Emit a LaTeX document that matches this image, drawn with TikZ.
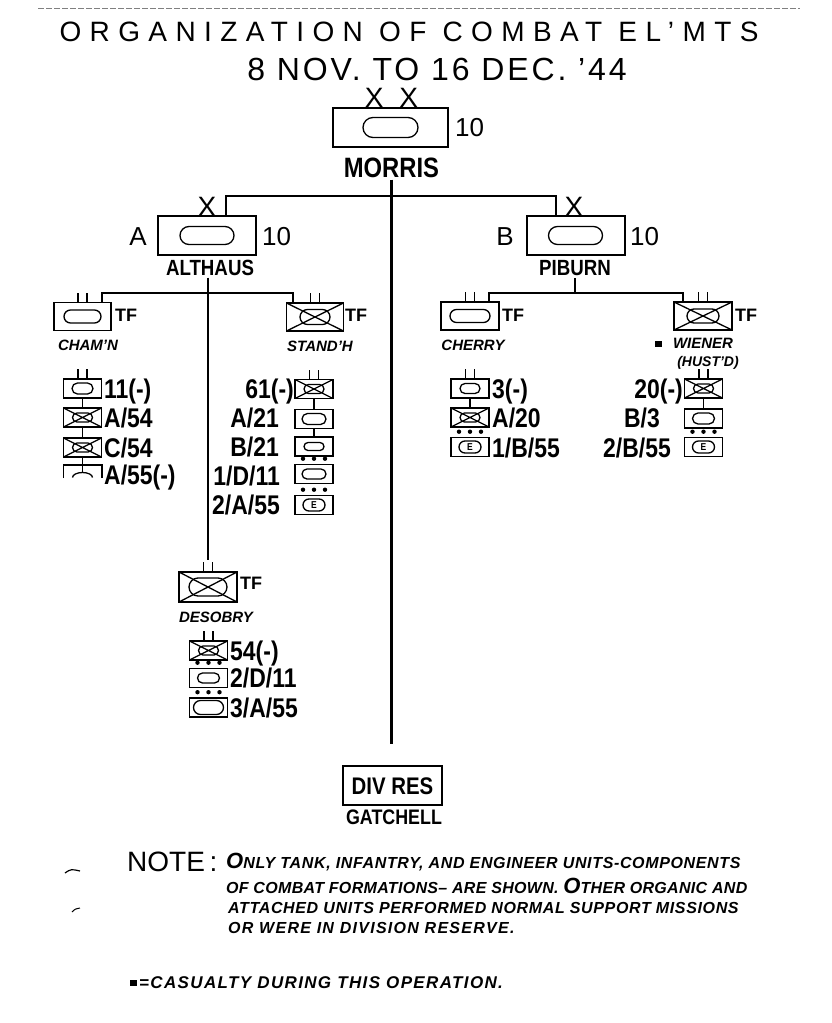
\documentclass[tikz,border=0pt]{standalone}
\usepackage{fontspec}
\setmainfont{Liberation Sans}
\setsansfont{Liberation Sans}
\newfontfamily\titlefont[LetterSpace=30]{Liberation Sans}
\newfontfamily\datefont[LetterSpace=9]{Liberation Sans}
\newfontfamily\hand[FakeStretch=0.85]{Liberation Sans}
\newfontfamily\notefont[LetterSpace=4]{Liberation Sans}
\usetikzlibrary{positioning}
\tikzset{symline/.style = {line width = 1.3pt}}
\tikzset{mainline/.style = {line width = 2.4pt}}
\tikzset{thinline/.style = {line width = 1.1pt}}
\tikzset{unit/.style = {draw, line width = 2pt, inner sep = 0}}
\tikzset{bigbox/.style = {unit, minimum width = 115, minimum height = 39}}
\tikzset{ccbox/.style = {unit, minimum width = 98, minimum height = 39}}
\tikzset{tfbox/.style = {unit, line width = 1.8pt, minimum width = 57, minimum height = 28}}
\tikzset{cobox/.style = {unit, line width = 1.6pt, minimum width = 38, minimum height = 19}}
\tikzset{divbox/.style = {unit, minimum width = 99, minimum height = 39, font = \hand\bfseries\fontsize{24}{24}\selectfont, text height = 17pt, text depth = 0pt}}
\tikzset{casualty/.style = {fill, minimum width = 7, minimum height = 6, inner sep = 0}}
\tikzset{armor/.style n args = {2}{path picture = {\draw [symline, rounded corners = #2] ([shift = {(-#1, -#2)}] path picture bounding box.center) rectangle ([shift = {(#1, #2)}] path picture bounding box.center);}}}
\tikzset{mech/.style n args = {2}{path picture = {\draw [symline] (path picture bounding box.north west) -- (path picture bounding box.south east) (path picture bounding box.north east) -- (path picture bounding box.south west); \draw [symline, rounded corners = #2] ([shift = {(-#1, -#2)}] path picture bounding box.center) rectangle ([shift = {(#1, #2)}] path picture bounding box.center);}}}
\tikzset{engr/.style n args = {2}{path picture = {\draw [symline, rounded corners = #2] ([shift = {(-#1, -#2)}] path picture bounding box.center) rectangle ([shift = {(#1, #2)}] path picture bounding box.center); \node [font = \hand\bfseries\fontsize{10}{10}\selectfont, inner sep = 0] at (path picture bounding box.center) {E};}}}
\tikzset{titletext/.style = {font = \titlefont\fontsize{28}{28}\selectfont, inner sep = 0, text height = 20pt, text depth = 0pt}}
\tikzset{datetext/.style = {font = \datefont\fontsize{32}{32}\selectfont, inner sep = 0, text height = 23pt, text depth = 0pt}}
\tikzset{echelon/.style = {font = \sffamily\fontsize{28}{28}\selectfont, inner sep = 0, text height = 20pt, text depth = 0pt}}
\tikzset{numtext/.style = {font = \sffamily\fontsize{26}{26}\selectfont, inner sep = 0, text height = 18.6pt, text depth = 0pt}}
\tikzset{cmdname/.style = {font = \hand\bfseries\fontsize{28}{28}\selectfont, inner sep = 0, text height = 20pt, text depth = 0pt}}
\tikzset{ccname/.style = {font = \hand\bfseries\fontsize{22}{22}\selectfont, inner sep = 0, text height = 15.8pt, text depth = 0pt}}
\tikzset{lbl/.style = {font = \hand\bfseries\fontsize{27}{27}\selectfont, inner sep = 0, text height = 19.3pt, text depth = 0pt}}
\tikzset{tftag/.style = {font = \sffamily\bfseries\fontsize{18}{18}\selectfont, inner sep = 0, text height = 12.9pt, text depth = 0pt, anchor = west}}
\tikzset{tfname/.style = {font = \sffamily\bfseries\itshape\fontsize{15}{15}\selectfont, inner sep = 0, text height = 10.7pt, text depth = 0pt}}
\tikzset{notehead/.style = {font = \sffamily\fontsize{28}{28}\selectfont, inner sep = 0, text height = 20pt, text depth = 0pt, anchor = west}}
\tikzset{notetext/.style = {font = \notefont\bfseries\itshape\fontsize{16}{16}\selectfont, inner sep = 0, text height = 11.5pt, text depth = 0pt, anchor = west}}
\newcommand{\bnmark}[1]{\draw [symline] ([xshift = -4.5pt] #1.north) -- ++(0, -9) ([xshift = 4.5pt] #1.north) -- ++(0, -9);}
\newcommand{\pltdots}[1]{\foreach \dx in {-11, 0, 11} {\fill ([xshift = \dx pt] #1.north) ++(0, -5) circle (2.2pt);}}
\newcommand{\bigO}{{\fontsize{22}{22}\selectfont O}}

\begin{document}
\begin{tikzpicture}[x = 1pt, y = -1pt]
    \useasboundingbox (0, 0) rectangle (831, 1023);
    \draw [dash pattern = on 6pt off 2pt, line width = 0.8pt, gray] (38, 8) -- (800, 8);

    \node [titletext] (title) at (409, 31) {ORGANIZATION OF COMBAT EL’MTS};
    \node [datetext] (dates) at (437, 68.5) {8 NOV. TO 16 DEC. ’44};

    \node [bigbox, armor = {27.5}{10}] (morris) at (390.5, 127.5) {};
    \node [echelon] (xxM) at (391.5, 97.5) {X\hspace{16pt}X};
    \node [numtext, anchor = west] (tenM) at (455, 127.5) {10};
    \node [cmdname] (morrislbl) at (391.5, 167.5) {MORRIS};

    \node [ccbox, armor = {27}{9}] (ccA) at (207, 235.5) {};
    \node [echelon] (xA) at (207, 206.5) {X};
    \node [numtext] (letA) at (138, 236) {A};
    \node [numtext, anchor = west] (tenA) at (262, 236) {10};
    \node [ccname] (althaus) at (210, 267.5) {ALTHAUS};
    \node [ccbox, armor = {27}{9}] (ccB) at (575.5, 235.5) {};
    \node [echelon] (xB) at (574, 206.5) {X};
    \node [numtext] (letB) at (505, 236) {B};
    \node [numtext, anchor = west] (tenB) at (630, 236) {10};
    \node [ccname] (piburn) at (575, 268) {PIBURN};

    \node [tfbox, armor = {18.5}{6.5}] (chamn) at (82.5, 316.5) {};
    \node [tftag] (tfC) at (115, 315) {TF};
    \node [tfname] (chamnlbl) at (88, 345) {CHAM’N};
    \node [tfbox, mech = {15}{7.5}] (standh) at (315, 317) {};
    \node [tftag] (tfS) at (345, 315) {TF};
    \node [tfname] (standhlbl) at (320, 346) {STAND’H};
    \node [tfbox, minimum width = 58, armor = {20}{6.5}] (cherry) at (470, 316) {};
    \node [tftag] (tfH) at (502, 315) {TF};
    \node [tfname] (cherrylbl) at (473, 345) {CHERRY};
    \node [tfbox, minimum width = 58, mech = {16}{7}] (wiener) at (703, 316) {};
    \node [tftag] (tfW) at (735, 315) {TF};
    \node [casualty] (casW) at (658.5, 344) {};
    \node [tfname] (wienerlbl) at (703, 343) {WIENER};
    \node [tfname, font = \sffamily\bfseries\itshape\fontsize{14}{14}\selectfont] (hustd) at (708, 361) {(HUST’D)};
    \bnmark{chamn}
    \bnmark{standh}
    \bnmark{cherry}
    \bnmark{wiener}

    \node [cobox, armor = {10.5}{5.5}] (c1) at (82.5, 388.5) {};
    \node [cobox, mech = {10}{4.5}] (c2) at (82.5, 417.5) {};
    \node [cobox, mech = {10}{4.5}] (c3) at (82.5, 447.5) {};
    \node [minimum width = 38, minimum height = 13, inner sep = 0] (c4) at (82.5, 471.5) {};
    \draw [symline, line width = 1.6pt] (c4.south west) |- (c4.north east) -- (c4.south east);
    \draw [symline] ([shift = {(-10, 6)}] c4.center) arc [start angle = 180, end angle = 360, x radius = 10, y radius = 5];
    \draw [symline] (c1) -- (c2) (c2) -- (c3) (c3) -- (c4.center);
    \bnmark{c1}
    \node [lbl, anchor = west] (c1lbl) at (104, 388.5) {11(-)};
    \node [lbl, anchor = west] (c2lbl) at (104, 417.5) {A/54};
    \node [lbl, anchor = west] (c3lbl) at (104, 447.5) {C/54};
    \node [lbl, anchor = west] (c4lbl) at (104, 475) {A/55(-)};

    \node [cobox, mech = {10}{4.5}] (s1) at (314, 389) {};
    \node [cobox, armor = {12}{5.5}] (s2) at (314, 419) {};
    \node [cobox, armor = {10}{4}] (s3) at (314, 446.5) {};
    \node [cobox, armor = {12}{5}] (s4) at (314, 474) {};
    \node [cobox, engr = {11}{6}] (s5) at (314, 505) {};
    \draw [symline] (s1) -- (s2) (s2) -- (s3);
    \bnmark{s1}
    \pltdots{s4}
    \pltdots{s5}
    \node [lbl, anchor = east] (s1lbl) at (294, 389) {61(-)};
    \node [lbl, anchor = east] (s2lbl) at (279, 417.5) {A/21};
    \node [lbl, anchor = east] (s3lbl) at (279, 447) {B/21};
    \node [lbl, anchor = east] (s4lbl) at (280, 476) {1/D/11};
    \node [lbl, anchor = east] (s5lbl) at (280, 505) {2/A/55};

    \node [cobox, armor = {10}{5}] (h1) at (470, 388.5) {};
    \node [cobox, mech = {10}{4.5}] (h2) at (470, 417.5) {};
    \node [cobox, engr = {11}{6}] (h3) at (470, 447) {};
    \draw [symline] (h1) -- (h2);
    \bnmark{h1}
    \pltdots{h3}
    \node [lbl, anchor = west] (h1lbl) at (492, 389) {3(-)};
    \node [lbl, anchor = west] (h2lbl) at (492, 418) {A/20};
    \node [lbl, anchor = west] (h3lbl) at (492, 448) {1/B/55};

    \node [cobox, mech = {10}{4.5}] (w1) at (703.5, 388.5) {};
    \node [cobox, armor = {11}{5.5}] (w2) at (703.5, 418.5) {};
    \node [cobox, engr = {11}{6}] (w3) at (703.5, 447) {};
    \draw [symline] (w1) -- (w2);
    \bnmark{w1}
    \pltdots{w3}
    \node [lbl, anchor = east] (w1lbl) at (683, 389) {20(-)};
    \node [lbl, anchor = east] (w2lbl) at (660, 418) {B/3};
    \node [lbl, anchor = east] (w3lbl) at (671, 448) {2/B/55};

    \node [tfbox, minimum width = 58, minimum height = 30, mech = {19}{9}] (desobry) at (208, 587) {};
    \node [tftag] (tfD) at (240, 583) {TF};
    \node [tfname] (desobrylbl) at (216, 617) {DESOBRY};
    \bnmark{desobry}
    \node [cobox, mech = {10}{4.5}] (d1) at (208.5, 650.5) {};
    \node [cobox, armor = {11}{5}] (d2) at (208.5, 678) {};
    \node [cobox, armor = {15}{7}] (d3) at (208.5, 707.5) {};
    \bnmark{d1}
    \pltdots{d2}
    \pltdots{d3}
    \node [lbl, anchor = west] (d1lbl) at (230, 650.5) {54(-)};
    \node [lbl, anchor = west] (d2lbl) at (230, 678) {2/D/11};
    \node [lbl, anchor = west] (d3lbl) at (230, 708) {3/A/55};

    \node [divbox] (divres) at (392.5, 785.5) {DIV RES};
    \node [ccname, font = \hand\bfseries\fontsize{21}{21}\selectfont] (gatchell) at (394, 817) {GATCHELL};

    \coordinate (joinM) at (392, 196);
    \draw [mainline] ([xshift = 19pt] ccA.north) |- (joinM) -| ([xshift = -19.5pt] ccB.north);
    \draw [mainline, shorten <= 2pt, shorten >= 21pt] (morrislbl.south) -- (morrislbl.south |- divres.north);
    \coordinate (joinA) at (208, 293);
    \draw [thinline] ([xshift = 19.5pt] chamn.north) |- (joinA) -| ([xshift = -22pt] standh.north);
    \draw [thinline, shorten <= 2pt, shorten >= 11pt] (desobry.north |- althaus.south) -- (desobry.north);
    \coordinate (joinB) at (575, 293);
    \draw [thinline, shorten <= 2pt] (piburn.south) -- (joinB);
    \draw [thinline] ([xshift = 19pt] cherry.north) |- (joinB) -| ([xshift = -20pt] wiener.north);

    \node [notehead] (notelbl) at (127, 861) {NOTE\,:};
    \node [notetext] (note1) at (226, 863) {\bigO NLY TANK, INFANTRY, AND ENGINEER UNITS-COMPONENTS};
    \node [notetext] (note2) at (226, 888) {\addfontfeature{LetterSpace=2}OF COMBAT FORMATIONS– ARE SHOWN. \bigO THER ORGANIC AND};
    \node [notetext] (note3) at (228, 908) {ATTACHED UNITS PERFORMED NORMAL SUPPORT MISSIONS};
    \node [notetext] (note4) at (228, 928) {\addfontfeature{LetterSpace=8}OR WERE IN DIVISION RESERVE.};
    \node [casualty] (casL) at (133.5, 983) {};
    \node [notetext, font = \notefont\bfseries\itshape\fontsize{17}{17}\selectfont\addfontfeature{LetterSpace=8}] (legend) at (139, 983) {=CASUALTY DURING THIS OPERATION.};

    \draw [line width = 1.2pt] (65, 873) .. controls (71, 869) .. (80, 871);
    \draw [line width = 1pt] (72, 912) .. controls (75, 909) .. (80, 908);
  \end{tikzpicture}
\end{document}
